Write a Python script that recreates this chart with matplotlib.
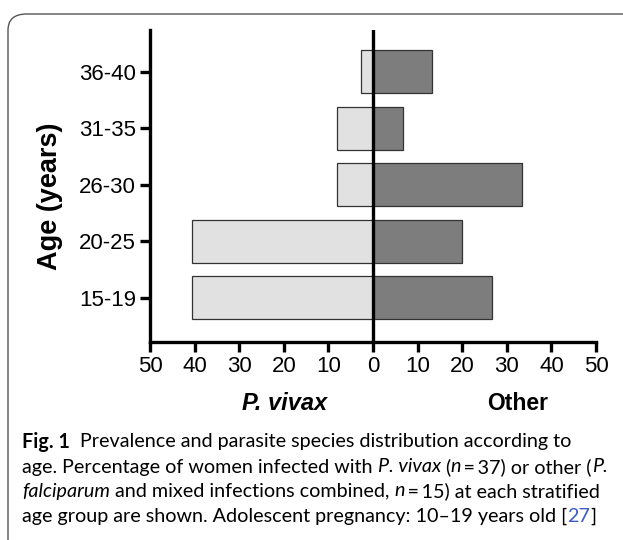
import matplotlib
matplotlib.use("Agg")
import matplotlib.pyplot as plt
from matplotlib.patches import FancyBboxPatch
import numpy as np

# Data
age_groups = ["15-19", "20-25", "26-30", "31-35", "36-40"]
vivax_pct = [40.5, 40.5, 8.1, 8.1, 2.7]
other_pct = [26.7, 20.0, 33.3, 6.7, 13.3]
xtick_vals = [-50, -40, -30, -20, -10, 0, 10, 20, 30, 40, 50]
xtick_labels = ["50", "40", "30", "20", "10", "0", "10", "20", "30", "40", "50"]

W, H = 623, 540
fig = plt.figure(figsize=(W / 100, H / 100), dpi=100)
fig.patch.set_facecolor("white")

# frame around figure + caption
frame = FancyBboxPatch((8 / W, -0.1), 1.2, (1 - 14 / H) + 0.1,
                       boxstyle="round,pad=0,rounding_size=0.03",
                       transform=fig.transFigure, facecolor="none",
                       edgecolor="#555555", linewidth=1.0, zorder=-1)
fig.patches.append(frame)

ax = fig.add_axes([150 / W, 1 - 342 / H, (596 - 150) / W, (342 - 30) / H])
ax.set_facecolor("none")
y = np.arange(len(age_groups))
bh = 0.76
ax.barh(y, [-v for v in vivax_pct], height=bh, color="#e0e1e0", edgecolor="#333333", linewidth=0.9, zorder=2)
ax.barh(y, other_pct, height=bh, color="#7d7d7d", edgecolor="#333333", linewidth=0.9, zorder=2)
ax.axvline(0, color="black", linewidth=2.4, zorder=3)

ax.set_xlim(-50, 50)
ax.set_ylim(-0.78, 4.74)
ax.set_yticks(y)
ax.set_yticklabels(age_groups)
ax.set_xticks(xtick_vals)
ax.set_xticklabels(xtick_labels)
for s in ["top", "right"]:
    ax.spines[s].set_visible(False)
for s in ["left", "bottom"]:
    ax.spines[s].set_linewidth(2.4)
ax.tick_params(axis="both", length=7, width=2.4, labelsize=16, pad=3)
for lab in ax.get_xticklabels() + ax.get_yticklabels():
    lab.set_fontfamily("Liberation Sans")

fig.text(50 / W, 1 - 196 / H, "Age (years)", fontsize=19.5, fontweight="bold", family="Liberation Sans",
         rotation=90, ha="center", va="center")

fig.text(285 / W, 1 - 404 / H, "P. vivax", fontsize=17, fontweight="bold", fontstyle="italic",
         family="Liberation Sans", ha="center", va="center")
fig.text(518 / W, 1 - 404 / H, "Other", fontsize=16.5, fontweight="bold",
         family="Liberation Sans", ha="center", va="center")

# caption with mixed styles
fam = ["Lato", "DejaVu Sans"]
fs = 14.2
ts = "\u2009"
lines = [
    [("Fig. 1", "bold", "normal", "black"), ("  Prevalence and parasite species distribution according to", "normal", "normal", "black")],
    [("age. Percentage of women infected with ", "normal", "normal", "black"), ("P. vivax", "normal", "italic", "black"),
     (" (", "normal", "normal", "black"), ("n", "normal", "italic", "black"), (ts + "=" + ts + "37) or other (", "normal", "normal", "black"),
     ("P.", "normal", "italic", "black")],
    [("falciparum", "normal", "italic", "black"), (" and mixed infections combined, ", "normal", "normal", "black"),
     ("n", "normal", "italic", "black"), (ts + "=" + ts + "15) at each stratified", "normal", "normal", "black")],
    [("age group are shown. Adolescent pregnancy: 10\u201319 years old [", "normal", "normal", "black"),
     ("27", "normal", "normal", "#3b5cc4"), ("]", "normal", "normal", "black")],
]
line_y = [442, 467, 491, 516]
fig.canvas.draw()
r = fig.canvas.get_renderer()
for segs, ly in zip(lines, line_y):
    x = 22
    for txt, wt, st, col in segs:
        t = fig.text(x / W, 1 - ly / H, txt, fontsize=fs, fontweight=wt, fontstyle=st,
                     family=fam, color=col, ha="left", va="center")
        bb = t.get_window_extent(renderer=r)
        x += bb.width

fig.savefig("out.png", dpi=100, facecolor="white")
